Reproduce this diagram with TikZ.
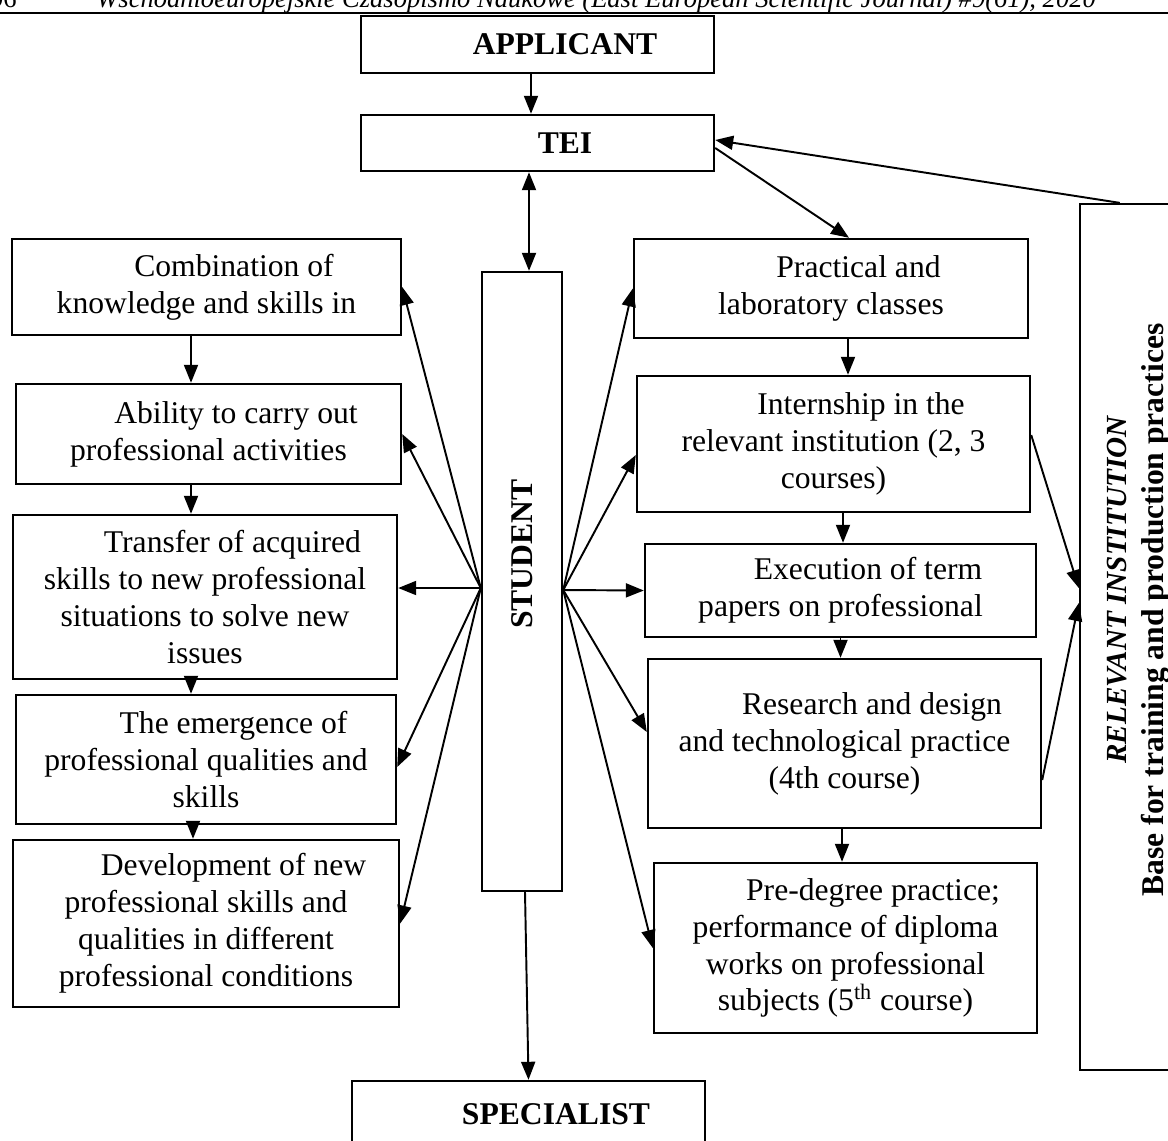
\documentclass[tikz,border=0pt]{standalone}
\usepackage{fontspec}
\setmainfont{Liberation Serif}
\usetikzlibrary{arrows.meta}
\newcommand{\ind}{\hspace*{1.1cm}}
\tikzset{
  box/.style={draw, line width=1.4pt, align=center, inner sep=0pt, font=\fontsize{18}{21}\selectfont},
  title/.style={box, font=\fontsize{18}{21}\selectfont\bfseries},
  arr/.style={line width=1.1pt, -{Triangle[length=.36cm,width=.28cm]}},
  darr/.style={line width=1.1pt, {Triangle[length=.36cm,width=.28cm]}-{Triangle[length=.36cm,width=.28cm]}},
}
\begin{document}
\begin{tikzpicture}[x=.02cm,y=-.02cm]
   \useasboundingbox (0,0) rectangle (1168,1140);
   \clip (0,0) rectangle (1168,1140);

   % page header, cut by the top edge
   \node[anchor=base west, inner sep=0pt, font=\fontsize{15.1}{18}\selectfont\itshape] (journal) at (96,7.5) {Wschodnioeuropejskie Czasopismo Naukowe (East European Scientific Journal) \#9(61), 2020};
   \node[anchor=base east, inner sep=0pt, font=\fontsize{15.1}{18}\selectfont] (page) at (17,7.5) {96};
   \draw[line width=1.4pt] (0,13) -- (1168,13);

   % middle column
   \node[title, minimum width=7.06cm, minimum height=1.14cm] (app) at (537.5,44.5) {\ind APPLICANT};
   \node[title, minimum width=7.06cm, minimum height=1.12cm] (tei) at (537.5,143) {\ind TEI};
   \node[draw, line width=1.4pt, minimum width=1.6cm, minimum height=12.38cm, inner sep=0pt] (student) at (522,581.5) {};
   \node[rotate=90, inner sep=0pt, font=\fontsize{18}{21}\selectfont\bfseries] (studentlabel) at (522,581.5) {\ind STUDENT};
   \node[title, minimum width=7.06cm, minimum height=1.34cm] (spec) at (528.5,1114.5) {\ind SPECIALIST};

   % left column
   \node[box, minimum width=7.78cm, minimum height=1.92cm] (L1) at (206.5,287) {\ind Combination of\\ knowledge and skills in};
   \node[box, minimum width=7.7cm, minimum height=2cm] (L2) at (208.5,434) {\ind Ability to carry out\\ professional activities};
   \node[box, minimum width=7.68cm, minimum height=3.28cm] (L3) at (205,597) {\ind Transfer of acquired\\ skills to new professional\\ situations to solve new\\ issues};
   \node[box, minimum width=7.6cm, minimum height=2.58cm] (L4) at (206,759.5) {\ind The emergence of\\ professional qualities and\\ skills};
   \node[box, minimum width=7.72cm, minimum height=3.34cm] (L5) at (206,923.5) {\ind Development of new\\ professional skills and\\ qualities in different\\ professional conditions};

   % right column
   \node[box, minimum width=7.88cm, minimum height=1.98cm] (R1) at (831,288.5) {\ind Practical and\\ laboratory classes};
   \node[box, minimum width=7.86cm, minimum height=2.72cm] (R2) at (833.5,444) {\ind Internship in the\\ relevant institution (2, 3\\ courses)};
   \node[box, minimum width=7.82cm, minimum height=1.86cm] (R3) at (840.5,590.5) {\ind Execution of term\\ papers on professional};
   \node[box, minimum width=7.86cm, minimum height=3.38cm] (R4) at (844.5,743.5) {\ind Research and design\\ and technological practice\\ (4th course)};
   \node[box, minimum width=7.66cm, minimum height=3.4cm] (R5) at (845.5,948) {\ind Pre-degree practice;\\ performance of diploma\\ works on professional\\ subjects (5\textsuperscript{th} course)};

   % institution
   \node[draw, line width=1.4pt, minimum width=2.4cm, minimum height=17.32cm, inner sep=0pt] (inst) at (1140,637) {};
   \node[rotate=90, align=center, inner sep=0pt, font=\fontsize{18}{21}\selectfont\bfseries] (instlabel) at (1138.5,610) {{\fontsize{16.6}{21}\selectfont\itshape\hspace*{.8cm}RELEVANT INSTITUTION}\\ Base for training and production practices};

   % arrows
   \draw[arr] ([xshift=-.13cm]app.south) -- ([xshift=-.13cm]app.south |- tei.north);
   \draw[darr] ([xshift=-.17cm]tei.south) -- ([xshift=-.17cm]tei.south |- student.north);
   \draw[arr] ([xshift=.06cm]student.south) -- (spec.north);
   \draw[arr] ([yshift=-.1cm]tei.east) -- ([xshift=.36cm]R1.north);
   \draw[arr] ([xshift=.82cm]inst.north west) -- ([yshift=.06cm]tei.east);

   \coordinate (sl) at ([yshift=-.13cm]student.west);
   \coordinate (sr) at ([yshift=-.17cm]student.east);
   \foreach \n in {L1,L2,L5} \draw[arr] (sl) -- (\n.east);
   \draw[arr] (sl) -- (sl -| L3.east);
   \draw[arr] (sl) -- ([yshift=-.15cm]L4.east);
   \foreach \a/\b/\s in {L1/L2/-.31,L2/L3/-.35,L3/L4/-.28,L4/L5/-.26}
      \draw[arr] ([xshift=\s cm]\a.south) -- ([xshift=\s cm]\a.south |- \b.north);

   \draw[arr] (sr) -- (R1.west);
   \draw[arr] (sr) -- ([yshift=-.22cm]R2.west);
   \draw[arr] (sr) -- (R3.west);
   \draw[arr] (sr) -- ([yshift=.23cm]R4.west);
   \draw[arr] (sr) -- (R5.west);
   \foreach \a/\b/\s in {R1/R2/.34,R2/R3/.19,R3/R4/0,R4/R5/-.05}
      \draw[arr] ([xshift=\s cm]\a.south) -- ([xshift=\s cm]\a.south |- \b.north);

   \draw[arr] ([yshift=.18cm]R2.east) -- ([yshift=.98cm]inst.west);
   \draw[arr] ([yshift=-.73cm]R4.east) -- ([yshift=.68cm]inst.west);
\end{tikzpicture}
\end{document}
